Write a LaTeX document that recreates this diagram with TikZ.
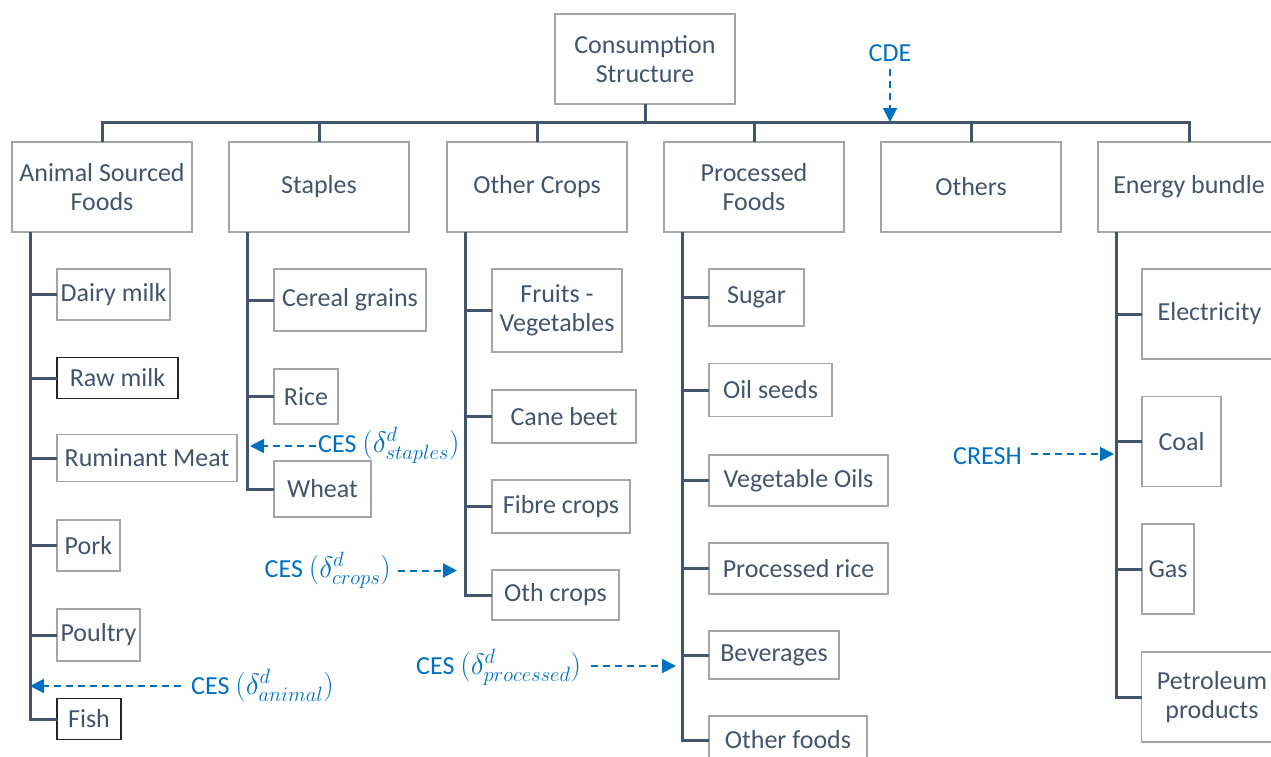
\documentclass[tikz,border=0pt]{standalone}
\usepackage{fix-cm}
\usepackage{fontspec}
\setmainfont{Carlito}
\usetikzlibrary{arrows.meta}
\definecolor{slate}{HTML}{44546A}
\definecolor{boxgray}{HTML}{A5A5A5}
\definecolor{cesblue}{HTML}{0070C0}
\newcommand\elmath[1]{{\fontsize{29.5}{31}\selectfont$#1$}}
\begin{document}
\begin{tikzpicture}[x=1pt,y=-1pt,
  box/.style={draw=boxgray, line width=1.5pt, text=slate, align=center, inner sep=0pt, outer sep=0pt,
    font=\fontsize{26}{29}\selectfont},
  darkbox/.style={box, draw=black!85},
  tree/.style={draw=slate, line width=3pt},
  ces/.style={draw=cesblue, line width=2pt, dash pattern=on 7pt off 5pt,
    -{Triangle[width=14pt,length=14pt]}},
  lab/.style={text=cesblue, inner sep=0pt, font=\fontsize{26}{29}\selectfont}
]
\useasboundingbox (0,0) rectangle (1271,756);

% root
\node[box, minimum width=180pt, minimum height=90pt] (top) at (645,59) {Consumption\\Structure};
% level 1
\node[box, minimum width=180pt, minimum height=90pt] (anim) at (102,187) {Animal Sourced\\Foods};
\node[box, minimum width=180pt, minimum height=90pt] (stap) at (319,187) {Staples};
\node[box, minimum width=180pt, minimum height=90pt] (othc) at (537,187) {Other Crops};
\node[box, minimum width=180pt, minimum height=90pt] (proc) at (754,187) {Processed\\Foods};
\node[box, minimum width=180pt, minimum height=90pt] (oths) at (971,187) {Others};
\node[box, minimum width=182pt, minimum height=90pt] (ener) at (1189,187) {Energy bundle};

% animal children
\node[box, minimum width=113pt, minimum height=51pt] (dairy) at (113.5,294.5) {Dairy milk};
\node[darkbox, minimum width=121pt, minimum height=41pt] (raw) at (117.5,378) {Raw milk};
\node[box, minimum width=180pt, minimum height=47pt] (rum) at (147,458) {Ruminant Meat};
\node[box, minimum width=63pt, minimum height=51pt] (pork) at (88.5,545.5) {Pork};
\node[box, minimum width=83pt, minimum height=52pt] (poul) at (98.5,635) {Poultry};
\node[darkbox, minimum width=64pt, minimum height=41pt] (fish) at (89,719) {Fish};
% staples children
\node[box, minimum width=152pt, minimum height=62pt] (cereal) at (350,300) {Cereal grains};
\node[box, minimum width=64pt, minimum height=55pt] (rice) at (306,396.5) {Rice};
\node[box, minimum width=97pt, minimum height=56pt] (wheat) at (322.5,489) {Wheat};
% other crops children
\node[box, minimum width=130pt, minimum height=83pt] (fruit) at (557,310.5) {Fruits -\\Vegetables};
\node[box, minimum width=144pt, minimum height=53pt] (cane) at (564,416.5) {Cane beet};
\node[box, minimum width=138pt, minimum height=53pt] (fibre) at (561,506.5) {Fibre crops};
\node[box, minimum width=127pt, minimum height=50pt] (othcr) at (555.5,595) {Oth crops};
% processed children
\node[box, minimum width=95pt, minimum height=57pt] (sugar) at (756.5,297.5) {Sugar};
\node[box, minimum width=123pt, minimum height=53pt] (oil) at (770.5,390) {Oil seeds};
\node[box, minimum width=179pt, minimum height=51pt] (vego) at (798.5,480.5) {Vegetable Oils};
\node[box, minimum width=179pt, minimum height=51pt] (procr) at (798.5,568.5) {Processed rice};
\node[box, minimum width=130pt, minimum height=48pt] (bev) at (774,655) {Beverages};
\node[box, minimum width=158pt, minimum height=48pt] (othf) at (788,740) {Other foods};
% energy children
\node[box, minimum width=135pt, minimum height=90pt] (elec) at (1209.5,314) {Electricity};
\node[box, minimum width=79pt, minimum height=90pt] (coal) at (1181.5,441.5) {Coal};
\node[box, minimum width=52pt, minimum height=90pt] (gas) at (1168,569) {Gas};
\node[box, minimum width=141pt, minimum height=90pt] (petr) at (1212,697) {Petroleum\\products};

% top-level connectors
\coordinate (bar) at (0,122);
\draw[tree] (top.south) -- (top.south |- bar);
\draw[tree] (anim.north) |- (ener.north |- bar) -- (ener.north);
\foreach \n in {stap,othc,proc,oths} \draw[tree] (\n.north) -- (\n.north |- bar);

% trunks
\coordinate (tA) at ([xshift=18pt]anim.south west);
\coordinate (tB) at ([xshift=18pt]stap.south west);
\coordinate (tC) at ([xshift=18pt]othc.south west);
\coordinate (tD) at ([xshift=18pt]proc.south west);
\coordinate (tE) at ([xshift=18pt]ener.south west);
\foreach \c in {dairy,raw,rum,pork,poul,fish} \draw[tree] (tA) |- (\c.west);
\foreach \c in {cereal,rice,wheat} \draw[tree] (tB) |- (\c.west);
\foreach \c in {fruit,cane,fibre,othcr} \draw[tree] (tC) |- (\c.west);
\foreach \c in {sugar,oil,vego,procr,bev,othf} \draw[tree] (tD) |- (\c.west);
\foreach \c in {elec,coal,gas,petr} \draw[tree] (tE) |- (\c.west);

% elasticity labels
\node[lab, anchor=base] (lcde) at (890,61.4) {CDE};
\node[lab, anchor=base west] (lanim) at (191,694.4) {CES \elmath{(\delta^{d}_{animal})}};
\node[lab, anchor=base west] (lstap) at (318,452.4) {CES \elmath{(\delta^{d}_{staples})}};
\node[lab, anchor=base west] (lcrop) at (264.5,577.4) {CES \elmath{(\delta^{d}_{crops})}};
\node[lab, anchor=base west] (lproc) at (416,674.4) {CES \elmath{(\delta^{d}_{processed})}};
\node[lab, anchor=base west] (lcresh) at (953,464.4) {CRESH};

% elasticity arrows
\coordinate (sCDE) at (890,69);
\draw[ces] (sCDE) -- (sCDE |- bar);
\coordinate (sA) at (181,686);
\draw[ces] (sA) -- (sA -| tA);
\coordinate (sB) at (316,446);
\draw[ces] (sB) -- ([xshift=3pt]sB -| tB);
\coordinate (sC) at (398,570.5);
\draw[ces] (sC) -- ([xshift=-8pt]sC -| tC);
\coordinate (sD) at (591,666);
\draw[ces] (sD) -- ([xshift=-6pt]sD -| tD);
\coordinate (sE) at (1031,454);
\draw[ces] (sE) -- ([xshift=-2pt]sE -| tE);
\end{tikzpicture}
\end{document}
